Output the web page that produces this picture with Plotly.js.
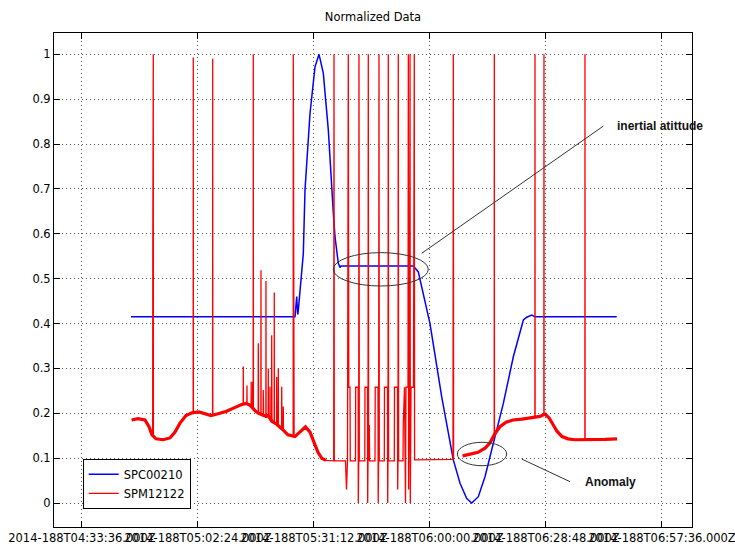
<!DOCTYPE html>
<html>
<head>
<meta charset="utf-8">
<script src="https://cdn.plot.ly/plotly-3.0.1.min.js"></script>
<style>html,body{margin:0;padding:0;background:#fff;}#chart{width:735px;height:546px;}</style>
</head>
<body>
<div id="chart"></div>
<script>
// x values: minutes after 2014-188T04:00:00Z
var tickMinutes = [33.6, 62.4, 91.2, 120, 148.8, 177.6];
var tickLabels = ['2014-188T04:33:36.000Z','2014-188T05:02:24.000Z','2014-188T05:31:12.000Z',
                  '2014-188T06:00:00.000Z','2014-188T06:28:48.000Z','2014-188T06:57:36.000Z'];

// SPC00210 (blue)
var blueT = [45.77, 60, 75, 86.49, 86.91, 87.16, 87.31, 87.73, 88.15, 88.55, 88.97, 90.21, 91.45, 92.45,
             93.51, 94.76, 96.0, 96.42, 97.24, 97.66, 97.91, 115.86, 117.1, 120.0, 122.9, 125.79, 127.46,
             129.12, 130.36, 132.0, 133.67, 135.73, 138.21, 140.69, 143.18, 144.02, 145.26, 146.08, 166.36];
var blueV = [0.415, 0.415, 0.415, 0.415, 0.46, 0.42, 0.43, 0.48, 0.52, 0.556, 0.698, 0.868, 0.972, 1.0,
             0.958, 0.831, 0.646, 0.593, 0.534, 0.525, 0.528, 0.528, 0.515, 0.40, 0.237, 0.096, 0.044,
             0.010, 0.0, 0.014, 0.059, 0.133, 0.222, 0.326, 0.408, 0.414, 0.419, 0.415, 0.415];

// SPM12122 (red) - noisy base before the manoeuvre
var redStartT = [45.94, 47.50, 49.24, 50.23, 50.98, 51.97, 53.71, 55.45, 56.69, 57.93, 59.42, 60.91, 62.65,
                 64.14, 65.63, 67.37, 69.35, 71.34, 73.08, 74.32, 75.31, 76.67, 77.45, 78.69, 79.78, 80.77,
                 82.01, 83.26, 84.74, 86.48, 87.72, 89.09, 90.21, 91.20, 92.19, 93.18, 94.18];
var redStartV = [0.185, 0.188, 0.185, 0.170, 0.152, 0.143, 0.141, 0.145, 0.158, 0.178, 0.195, 0.201, 0.203,
                 0.199, 0.195, 0.199, 0.204, 0.212, 0.219, 0.222, 0.218, 0.205, 0.200, 0.195, 0.195, 0.182,
                 0.175, 0.165, 0.152, 0.148, 0.158, 0.170, 0.158, 0.135, 0.113, 0.099, 0.095];

// red during the inertial-attitude phase (pulses and spikes)
var redMidT = [96.09, 96.17, 96.24, 99.02, 99.27, 99.52, 99.72, 99.84, 100.14, 100.21, 101.50, 101.55, 102.17,
               102.20, 102.30, 102.37, 102.45, 103.81, 103.86, 104.48, 104.53, 104.61, 104.68, 104.76, 104.93,
               105.01, 106.35, 106.40, 107.09, 107.14, 107.24, 107.34, 107.41, 108.66, 108.70, 109.45, 109.50,
               109.57, 109.65, 109.72, 111.14, 111.19, 111.93, 111.98, 112.06, 112.13, 112.21, 113.30, 113.37,
               113.67, 113.92, 114.04, 114.54, 114.62, 114.69, 114.91, 115.04, 115.11, 115.29, 115.90, 116.10,
               116.18, 120.0, 125.71, 125.79, 125.86, 126.5];
var redMidV = [0.094, 1.0, 0.094, 0.094, 0.03, 0.094, 1.0, 0.258, 0.258, 0.094, 0.094, 0.258, 0.258,
               0.0, 0.094, 1.0, 0.094, 0.094, 0.258, 0.258, 0.0, 0.094, 1.0, 0.094, 0.174,
               0.094, 0.094, 0.258, 0.258, 0.0, 0.094, 1.0, 0.094, 0.094, 0.258, 0.258, 0.0,
               0.094, 1.0, 0.094, 0.094, 0.258, 0.258, 0.03, 0.094, 1.0, 0.094, 0.094, 0.178,
               0.258, 0.0, 0.258, 0.258, 1.0, 0.03, 0.258, 1.0, 0.0, 0.258, 0.258, 1.0,
               0.096, 0.097, 0.097, 1.0, 0.097, null];

// red after the manoeuvre (anomaly and return)
var redEndT = [128.12, 129.93, 131.92, 133.66, 134.90, 136.14, 137.38, 138.87, 140.61, 142.84, 145.32,
               147.31, 148.55, 149.55, 150.54, 151.53, 152.77, 154.26, 156.00, 160.97, 163.45, 166.43];
var redEndV = [0.105, 0.108, 0.113, 0.122, 0.134, 0.155, 0.170, 0.180, 0.185, 0.187, 0.190,
               0.193, 0.198, 0.190, 0.175, 0.160, 0.148, 0.143, 0.141, 0.141, 0.142, 0.143];

// red isolated spikes: time, base level, peak level
var spikeT  = [51.18, 51.30, 61.23, 66.05, 73.65, 74.56, 75.61, 75.98, 76.13, 77.37, 78.04, 78.61, 79.28,
               79.85, 80.28, 80.70, 81.34, 81.94, 82.34, 83.18, 83.58, 86.06, 86.23, 135.97, 146.07, 148.30, 158.48];
var spikeLo = [0.150, 0.150, 0.201, 0.196, 0.220, 0.222, 0.215, 0.210, 0.210, 0.200, 0.200, 0.195, 0.190,
               0.195, 0.185, 0.180, 0.180, 0.175, 0.172, 0.165, 0.162, 0.148, 0.148, 0.150, 0.191, 0.197, 0.141];
var spikeHi = [0.575, 1.0, 0.993, 0.99, 0.304, 0.262, 0.27, 0.27, 1.0, 0.356, 0.519, 0.252, 0.495,
               0.30, 0.259, 0.374, 0.469, 0.281, 0.30, 0.259, 0.215, 1.0, 0.97, 1.0, 1.0, 1.0, 1.0];

// build full red line
var pts = [];
function addPts(T, V) { for (var i = 0; i < T.length; i++) pts.push([T[i], V[i]]); }
addPts(redStartT, redStartV); addPts(redMidT, redMidV); addPts(redEndT, redEndV);
var d = 0.03;
for (var i = 0; i < spikeT.length; i++) {
  pts.push([spikeT[i] - d, spikeLo[i]]); pts.push([spikeT[i], spikeHi[i]]); pts.push([spikeT[i] + d, spikeLo[i]]);
}
pts.sort(function (a, b) { return a[0] - b[0]; });
var redX = pts.map(function (p) { return p[0]; });
var redY = pts.map(function (p) { return p[1]; });

var thickX = redStartT.concat([95]).concat(redEndT);
var thickY = redStartV.concat([null]).concat(redEndV);

var tickFont = {family: 'DejaVu Sans', size: 11.5, color: '#000'};

var traces = [
  {x: blueT, y: blueV, type: 'scatter', mode: 'lines', name: 'SPC00210',
   line: {color: '#0000ff', width: 1.5}},
  {x: thickX, y: thickY, type: 'scatter', mode: 'lines', showlegend: false, hoverinfo: 'skip',
   line: {color: '#ff0000', width: 3.2}, connectgaps: false},
  {x: redX, y: redY, type: 'scatter', mode: 'lines', name: 'SPM12122',
   line: {color: '#ff0000', width: 1.3}, connectgaps: false}
];

var layout = {
  width: 735, height: 546,
  margin: {l: 54, r: 43, t: 33, b: 19, pad: 0},
  paper_bgcolor: '#fff', plot_bgcolor: '#fff',
  title: {text: 'Normalized Data', font: {family: 'DejaVu Sans', size: 11.5, color: '#000'},
          x: 0.5, xref: 'paper', y: 1 - 16.7 / 546, yref: 'container', yanchor: 'middle'},
  xaxis: {range: [26.65, 185.05], tickmode: 'array', tickvals: tickMinutes, ticktext: tickLabels,
          tickangle: 0, ticklabeloverflow: 'allow', ticks: 'inside', ticklen: 6, tickcolor: '#000',
          showline: true, linecolor: '#000', linewidth: 1, mirror: 'ticks',
          showgrid: true, gridcolor: '#555', griddash: '1px,3px', gridwidth: 1, zeroline: false,
          tickfont: tickFont, automargin: false},
  yaxis: {range: [-0.0535, 1.0475], tickmode: 'linear', tick0: 0, dtick: 0.1,
          ticks: 'inside', ticklen: 6, tickcolor: '#000',
          showline: true, linecolor: '#000', linewidth: 1, mirror: 'ticks',
          showgrid: true, gridcolor: '#555', griddash: '1px,3px', gridwidth: 1, zeroline: false,
          tickfont: tickFont, automargin: false},
  legend: {x: 0.045, y: 0.138, xanchor: 'left', yanchor: 'top', bgcolor: '#fff',
           bordercolor: '#000', borderwidth: 1, font: tickFont, tracegroupgap: 0},
  showlegend: true,
  shapes: [
    {type: 'circle', xref: 'x', yref: 'y', x0: 95.99, x1: 119.58, y0: 0.4836, y1: 0.558,
     line: {color: '#333', width: 1}},
    {type: 'circle', xref: 'x', yref: 'y', x0: 126.78, x1: 139.04, y0: 0.0831, y1: 0.1353,
     line: {color: '#333', width: 1}},
    {type: 'line', xref: 'x', yref: 'y', x0: 117.94, y0: 0.5565, x1: 163.03, y1: 0.840,
     line: {color: '#333', width: 1}},
    {type: 'line', xref: 'x', yref: 'y', x0: 142.77, y0: 0.098, x1: 154.76, y1: 0.0475,
     line: {color: '#333', width: 1}}
  ],
  annotations: [
    {text: '<b>inertial atittude</b>', x: 165.93, y: 0.8413, xref: 'x', yref: 'y', xanchor: 'left',
     yanchor: 'middle', showarrow: false, font: {family: 'Liberation Sans', size: 12, color: '#111'}},
    {text: '<b>Anomaly</b>', x: 157.99, y: 0.0479, xref: 'x', yref: 'y', xanchor: 'left',
     yanchor: 'middle', showarrow: false, font: {family: 'Liberation Sans', size: 12, color: '#111'}}
  ]
};

Plotly.newPlot('chart', traces, layout, {displayModeBar: false, staticPlot: true});
</script>
</body>
</html>
